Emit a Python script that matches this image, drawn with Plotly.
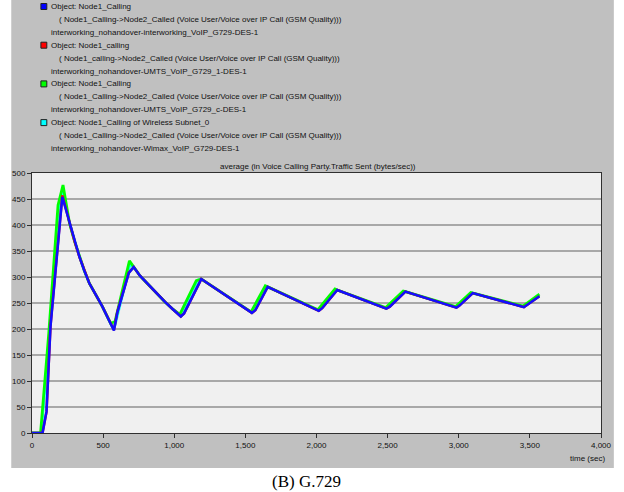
import plotly.graph_objects as go

# ---------------- data ----------------
t_blue = [0, 74, 102, 130, 213, 240, 264, 300, 333, 368, 403, 450, 495, 576, 600, 681, 715, 760, 819,
          880, 935, 990, 1046, 1069, 1190, 1546, 1570, 1657, 2016, 2040, 2146, 2491, 2515, 2625,
          2984, 3005, 3099, 3458, 3567]
v_blue = [0, 0, 41, 204, 454, 428, 403, 368, 339, 312, 288, 265, 243, 197, 232, 308, 319, 302, 285,
          267, 252, 238, 224, 230, 296, 231, 236, 281, 235, 240, 275, 239, 243, 272,
          241, 245, 269, 242, 263]

t_red = t_blue
v_red = [0, 0, 41, 206, 457, 428, 403, 368, 339, 312, 288, 265, 243, 198, 233, 309, 319, 302, 285,
         267, 252, 238, 224, 230, 296, 231, 236, 281, 235, 240, 275, 239, 243, 272,
         241, 245, 269, 242, 263]

t_green = [0, 60, 118, 183, 218, 240, 264, 300, 333, 368, 403, 450, 495, 553, 583, 685, 715, 760, 819,
           880, 935, 990, 1039, 1155, 1190, 1540, 1640, 1657, 2010, 2130, 2146, 2485, 2610, 2625,
           2978, 3085, 3099, 3452, 3567]
v_green = [0, 0, 192, 438, 477, 440, 403, 368, 339, 312, 288, 265, 243, 211, 214, 331, 319, 302, 285,
           267, 252, 238, 228, 293, 296, 233, 283, 281, 237, 277, 275, 241, 273, 272,
           243, 270, 269, 244, 267]

t_cyan = [0, 66, 124, 188, 215, 240, 264, 300, 333, 368, 403, 450, 495, 560, 585, 690, 715, 760, 819,
          880, 935, 990, 1042, 1165, 1190, 1543, 1646, 1657, 2013, 2136, 2146, 2488, 2616, 2625,
          2981, 3090, 3099, 3455, 3567]
v_cyan = [0, 0, 196, 430, 466, 435, 403, 368, 339, 312, 288, 265, 243, 206, 208, 324, 319, 302, 285,
          267, 252, 238, 226, 294, 296, 232, 282, 281, 236, 276, 275, 240, 272, 272,
          242, 269, 269, 243, 265]

legend_lines = [
    ("Object: Node1_Calling", "#0000ff"),
    ("( Node1_Calling->Node2_Called (Voice User/Voice over IP Call (GSM Quality)))", None),
    ("interworking_nohandover-interworking_VoIP_G729-DES-1", None),
    ("Object: Node1_calling", "#ff0000"),
    ("( Node1_calling->Node2_Called (Voice User/Voice over IP Call (GSM Quality)))", None),
    ("interworking_nohandover-UMTS_VoIP_G729_1-DES-1", None),
    ("Object: Node1_Calling", "#00ff00"),
    ("( Node1_Calling->Node2_Called (Voice User/Voice over IP Call (GSM Quality)))", None),
    ("interworking_nohandover-UMTS_VoIP_G729_c-DES-1", None),
    ("Object: Node1_Calling of Wireless Subnet_0", "#00ffff"),
    ("( Node1_Calling->Node2_Called (Voice User/Voice over IP Call (GSM Quality)))", None),
    ("interworking_nohandover-Wimax_VoIP_G729-DES-1", None),
]

x_ticks = [0, 500, 1000, 1500, 2000, 2500, 3000, 3500, 4000]
y_ticks = [0, 50, 100, 150, 200, 250, 300, 350, 400, 450, 500]

# ---------------- layout geometry (pixels) ----------------
W, H = 624, 492
L, R, T, B = 32, 608, 173, 433


def px(x):
    return (x - L) / (R - L)


def py(y):
    return (B - y) / (B - T)


FONT = "Liberation Sans, Arial, sans-serif"

fig = go.Figure()
for t, v, c, w in [(t_cyan, v_cyan, "#00ffff", 2.5), (t_green, v_green, "#00ff00", 2.8),
                   (t_red, v_red, "#ff0000", 2.5), (t_blue, v_blue, "#1010ff", 2.5)]:
    fig.add_trace(go.Scatter(x=t, y=v, mode="lines", line=dict(color=c, width=w),
                             showlegend=False, hoverinfo="skip"))

shapes = [
    dict(type="rect", xref="paper", yref="paper", x0=px(11), x1=px(621), y0=py(468), y1=py(0),
         fillcolor="#c0c0c0", line=dict(width=0), layer="below"),
    dict(type="rect", xref="paper", yref="paper", x0=0, x1=1, y0=0, y1=1,
         fillcolor="#f0f0f0", line=dict(width=0), layer="below"),
]

annotations = []
y0 = 6.5
step = 12.9
for i, (txt, col) in enumerate(legend_lines):
    y = y0 + i * step
    xtext = 57 if txt.startswith("(") else 49
    annotations.append(dict(text=txt, xref="paper", yref="paper", x=px(xtext), y=py(y),
                            xanchor="left", yanchor="middle", showarrow=False,
                            font=dict(family=FONT, size=8, color="#101010")))
    if col:
        shapes.append(dict(type="rect", xref="paper", yref="paper",
                           x0=px(41), x1=px(47), y0=py(y + 3), y1=py(y - 3),
                           fillcolor=col, line=dict(color="#202020", width=1)))

annotations.append(dict(text="average (in Voice Calling Party.Traffic Sent (bytes/sec))",
                        xref="paper", yref="paper", x=px(322), y=py(166),
                        xanchor="center", yanchor="middle", showarrow=False,
                        font=dict(family=FONT, size=8, color="#101010")))
annotations.append(dict(text="time (sec)", xref="paper", yref="paper", x=px(614), y=py(458),
                        xanchor="right", yanchor="middle", showarrow=False,
                        font=dict(family=FONT, size=8, color="#101010")))
annotations.append(dict(text="(B) G.729", xref="paper", yref="paper", x=px(310), y=py(481),
                        xanchor="center", yanchor="middle", showarrow=False,
                        font=dict(family="Liberation Serif, Times New Roman, serif", size=17,
                                  color="#000000")))

fig.update_layout(
    width=W, height=H,
    margin=dict(l=L, r=W - R, t=T, b=H - B, pad=0),
    paper_bgcolor="white",
    plot_bgcolor="rgba(0,0,0,0)",
    shapes=shapes,
    annotations=annotations,
    xaxis=dict(range=[0, 4000], tickvals=x_ticks, tickformat=",d", showgrid=False, zeroline=False,
               showline=True, linecolor="#303030", linewidth=1, mirror=True,
               ticks="outside", ticklen=4, tickcolor="#303030",
               tickfont=dict(family=FONT, size=8, color="#101010")),
    yaxis=dict(range=[0, 500], tickvals=y_ticks, showgrid=True, gridcolor="#a8a8a8", gridwidth=1.5,
               zeroline=False, showline=True, linecolor="#303030", linewidth=1, mirror=True,
               ticks="outside", ticklen=4, tickcolor="#303030",
               tickfont=dict(family=FONT, size=8, color="#101010")),
)

fig.write_html("out.html")
